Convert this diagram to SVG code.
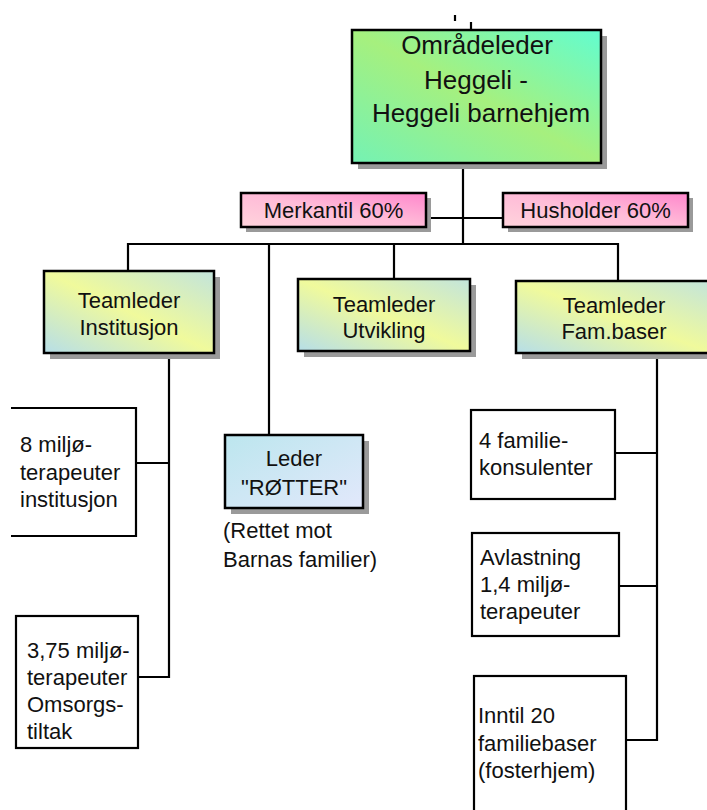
<svg xmlns="http://www.w3.org/2000/svg" width="707" height="810" viewBox="0 0 707 810">
<defs>
<linearGradient id="gTop" x1="0" y1="1" x2="1" y2="0">
<stop offset="0" stop-color="#74f2b4"/>
<stop offset="0.5" stop-color="#a6f07e"/>
<stop offset="1" stop-color="#62fdd0"/>
</linearGradient>
<linearGradient id="gPink" x1="0" y1="1" x2="1" y2="0">
<stop offset="0" stop-color="#ffd4dc"/>
<stop offset="0.5" stop-color="#ffbcd8"/>
<stop offset="1" stop-color="#ff86cc"/>
</linearGradient>
<linearGradient id="gTeam" x1="0" y1="1" x2="1" y2="0">
<stop offset="0" stop-color="#b6dee8"/>
<stop offset="0.5" stop-color="#f0fa9c"/>
<stop offset="1" stop-color="#c2e4dc"/>
</linearGradient>
<linearGradient id="gBlue" x1="0" y1="0" x2="1" y2="1">
<stop offset="0" stop-color="#bce6ee"/>
<stop offset="1" stop-color="#e2e8fb"/>
</linearGradient>
</defs>
<style>
.sh{fill:#9a9a9a}
.bx{stroke:#000;stroke-width:2.5}
.wb{fill:#fff;stroke:#000;stroke-width:2.2}
.ln{fill:none;stroke:#000;stroke-width:2.2}
text{font-family:"Liberation Sans",Arial,sans-serif;fill:#111}
.t{font-size:22px}
.c{text-anchor:middle}
.big{font-size:26px;text-anchor:middle}
</style>
<rect width="707" height="810" fill="#fff"/>
<g id="connectors">
<line class="ln" x1="455" y1="15" x2="455" y2="21"/>
<line class="ln" x1="471" y1="22" x2="471" y2="30"/>
<line class="ln" x1="463" y1="163" x2="463" y2="244"/>
<line class="ln" x1="426" y1="218" x2="503" y2="218"/>
<polyline class="ln" points="128,271 128,244 618,244 618,281"/>
<line class="ln" x1="269" y1="244" x2="269" y2="435"/>
<line class="ln" x1="394" y1="244" x2="394" y2="279"/>
<polyline class="ln" points="169,353 169,677 138,677"/>
<line class="ln" x1="136" y1="463" x2="169" y2="463"/>
<polyline class="ln" points="657,353 657,740 626,740"/>
<line class="ln" x1="615" y1="453" x2="657" y2="453"/>
<line class="ln" x1="619" y1="586" x2="657" y2="586"/>
</g>
<g id="omradeleder">
<rect class="sh" x="358" y="36" width="249" height="133"/>
<rect class="bx" x="352" y="30" width="249" height="133" fill="url(#gTop)"/>
<text class="big" x="477" y="54">Områdeleder</text>
<text class="big" x="476" y="89">Heggeli -</text>
<text class="big" x="481" y="122">Heggeli barnehjem</text>
</g>
<g id="merkantil">
<rect class="sh" x="246" y="198" width="185" height="34"/>
<rect class="bx" x="241" y="193" width="185" height="34" fill="url(#gPink)"/>
<text class="t c" x="333.5" y="218">Merkantil 60%</text>
</g>
<g id="husholder">
<rect class="sh" x="508" y="198" width="185" height="34"/>
<rect class="bx" x="503" y="193" width="185" height="34" fill="url(#gPink)"/>
<text class="t c" x="595.5" y="218">Husholder 60%</text>
</g>
<g id="institusjon">
<rect class="sh" x="50" y="277" width="170" height="82"/>
<rect class="bx" x="44" y="271" width="170" height="82" fill="url(#gTeam)"/>
<text class="t c" x="129" y="308">Teamleder</text>
<text class="t c" x="129" y="335">Institusjon</text>
</g>
<g id="utvikling">
<rect class="sh" x="304" y="285" width="172" height="72"/>
<rect class="bx" x="298" y="279" width="172" height="72" fill="url(#gTeam)"/>
<text class="t c" x="384" y="312">Teamleder</text>
<text class="t c" x="384" y="338">Utvikling</text>
</g>
<g id="fambaser">
<rect class="sh" x="522" y="287" width="197" height="72"/>
<rect class="bx" x="516" y="281" width="197" height="72" fill="url(#gTeam)"/>
<text class="t c" x="614" y="313">Teamleder</text>
<text class="t c" x="614" y="339">Fam.baser</text>
</g>
<g id="rotter">
<rect class="sh" x="231" y="441" width="138" height="73"/>
<rect class="bx" x="225" y="435" width="138" height="73" fill="url(#gBlue)"/>
<text class="t c" x="294" y="466">Leder</text>
<text class="t c" x="294" y="495">"RØTTER"</text>
<text class="t" x="223" y="538">(Rettet mot</text>
<text class="t" x="223" y="567">Barnas familier)</text>
</g>
<g id="miljo8">
<path class="wb" d="M11,408 H136 V536 H11"/>
<text class="t" x="20" y="452">8 miljø-</text>
<text class="t" x="20" y="480">terapeuter</text>
<text class="t" x="20" y="507">institusjon</text>
</g>
<g id="miljo375">
<rect class="wb" x="16" y="616" width="122" height="132"/>
<text class="t" x="27" y="658">3,75 miljø-</text>
<text class="t" x="27" y="685">terapeuter</text>
<text class="t" x="27" y="712">Omsorgs-</text>
<text class="t" x="27" y="739">tiltak</text>
</g>
<g id="familiekonsulenter">
<rect class="wb" x="471" y="410" width="144" height="89"/>
<text class="t" x="479" y="448">4 familie-</text>
<text class="t" x="479" y="475">konsulenter</text>
</g>
<g id="avlastning">
<rect class="wb" x="472" y="533" width="147" height="103"/>
<text class="t" x="480" y="565">Avlastning</text>
<text class="t" x="480" y="592">1,4 miljø-</text>
<text class="t" x="480" y="619">terapeuter</text>
</g>
<g id="familiebaser">
<rect class="wb" x="474" y="676" width="152" height="145"/>
<text class="t" x="478" y="723">Inntil 20</text>
<text class="t" x="478" y="751">familiebaser</text>
<text class="t" x="478" y="778">(fosterhjem)</text>
</g>
</svg>
